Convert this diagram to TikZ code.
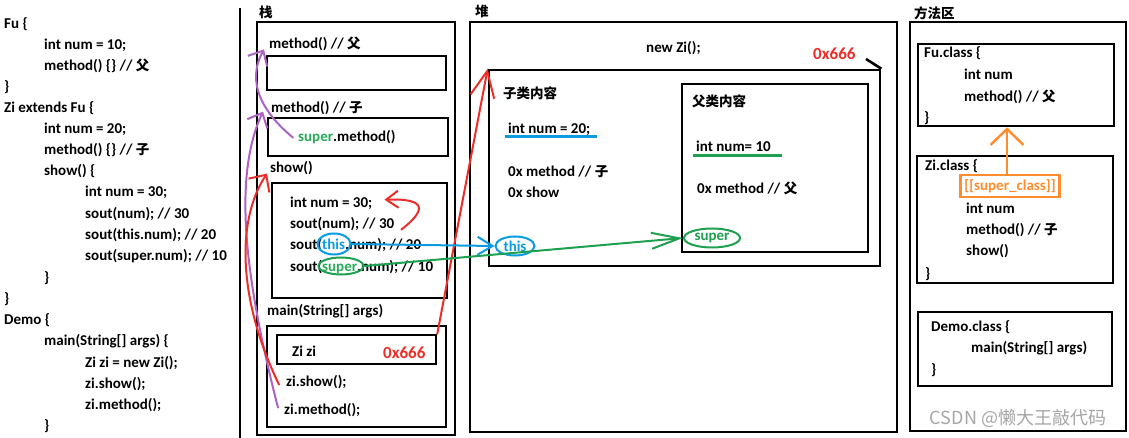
\documentclass[tikz,border=0pt]{standalone}
\usepackage{fontspec}
\setmainfont{Carlito}
\newfontfamily\cjkf{Noto Sans CJK SC}
\newcommand\zh[1]{{\cjkf\fontsize{13.5}{15}\selectfont #1}}
\usetikzlibrary{arrows.meta,shapes.geometric,fit}
\definecolor{ared}{RGB}{236,45,40}
\definecolor{apurple}{RGB}{172,100,196}
\definecolor{ablue}{RGB}{10,155,225}
\definecolor{agreen}{RGB}{30,160,80}
\definecolor{aorange}{RGB}{255,140,45}
\definecolor{tgreen}{RGB}{40,170,90}
\begin{document}
\begin{tikzpicture}[x=1pt,y=-1pt,
  t/.style={anchor=base west, inner sep=0pt, font=\fontsize{15}{17}\selectfont\bfseries},
  box/.style={draw, line width=2.6pt, inner sep=0pt},
  pen/.style={line width=2pt, line cap=round, line join=round},
  ell/.style={ellipse, draw, line width=2pt, inner sep=0pt, font=\fontsize{15}{17}\selectfont\bfseries}
]
\useasboundingbox (0,0) rectangle (1129,438);
\fill[white] (0,0) rectangle (1129,438);

% ---------- left code ----------
\node[t] (c0) at (4,29) {Fu \{};
\node[t] (c1) at (44,50) {int num = 10;};
\node[t] (c2) at (44,71) {method() \{\} // \zh{父}};
\node[t] (c3) at (4,92) {\}};
\node[t] (c4) at (4,113) {Zi extends Fu \{};
\node[t] (c5) at (44,134) {int num = 20;};
\node[t] (c6) at (44,155) {method() \{\} // \zh{子}};
\node[t] (c7) at (44,176) {show() \{};
\node[t] (c8) at (85,197) {int num = 30;};
\node[t] (c9) at (85,219) {sout(num); // 30};
\node[t] (c10) at (85,240) {sout(this.num); // 20};
\node[t] (c11) at (85,261) {sout(super.num); // 10};
\node[t] (c12) at (44,282) {\}};
\node[t] (c13) at (4,303) {\}};
\node[t] (c14) at (4,324) {Demo \{};
\node[t] (c15) at (44,345) {main(String[] args) \{};
\node[t] (c16) at (85,367) {Zi zi = new Zi();};
\node[t] (c17) at (85,388) {zi.show();};
\node[t] (c18) at (85,409) {zi.method();};
\node[t] (c19) at (44,430) {\}};
\draw[line width=2.4pt] (240,8) -- (240,438);

% ---------- stack ----------
\node[t] (lstack) at (259,18) {\zh{栈}};
\node[box, fit={(257,22) (455,435)}] (stack) {};
\node[t] (mf) at (269,49) {method() // \zh{父}};
\node[box, fit={(267,56) (446,90)}] (frame1) {};
\node[t] (mz) at (271,113) {method() // \zh{子}};
\node[box, fit={(268,118) (448,156)}] (frame2) {};
\node[t] (supm) at (298,142) {\color{tgreen}super\color{black}.method()};
\node[t] (sh) at (270,173) {show()};
\node[box, fit={(272,183) (447,298)}] (frame3) {};
\node[t] (in30) at (290,208) {int num = 30;};
\node[t] (snum) at (290,229) {sout(num); // 30};
\node[t] (sthisl) at (290,250) {sout(\color{ablue}this\color{black}.num); // 20};
\node[t] (ssupl) at (290,272) {sout(\color{tgreen}super\color{black}.num); // 10};
\node[t] (mainl) at (267,315) {main(String[] args)};
\node[box, fit={(267,326) (446,427)}] (frame4) {};
\node[box, fit={(277,335) (436,364)}] (zibox) {};
\node[t] (zizi) at (292,356) {Zi zi};
\node[t, text=ared, font=\fontsize{17}{19}\selectfont\bfseries] (addr1) at (383,358) {0x666};
\node[t] (zshow) at (286,386) {zi.show();};
\node[t] (zmeth) at (284,414) {zi.method();};

% ---------- heap ----------
\node[t] (lheap) at (475,17) {\zh{堆}};
\node[box, fit={(470,22) (897,432)}] (heap) {};
\node[t] (newzi) at (646,53) {new Zi();};
\node[t, text=ared, font=\fontsize{17}{19}\selectfont\bfseries] (addr2) at (813,60) {0x666};
\node[box, fit={(489,70) (880,266)}] (childobj) {};
\draw[line width=2.6pt] (866,59) -- (childobj.north east);
\node[t] (zicont) at (503,99) {\zh{子类内容}};
\node[t] (h20) at (508,134) {int num = 20;};
\draw[ablue, line width=2.6pt] (505,136.5) -- (597,136.5);
\node[t] (hmz) at (508,177) {0x method // \zh{子}};
\node[t] (hshow) at (508,198) {0x show};
\node[box, fit={(682,84) (868,252)}] (parentobj) {};
\node[t] (fucont) at (692,107) {\zh{父类内容}};
\node[t] (h10) at (696,152) {int num= 10};
\draw[agreen, line width=2.6pt] (693,155.5) -- (782,155.5);
\node[t] (hmf) at (697,194) {0x method // \zh{父}};

% ---------- method area ----------
\node[t] (lmeth) at (914,19) {\zh{方法区}};
\node[box, fit={(910,22) (1126,431)}] (marea) {};
\node[box, fit={(918,44) (1114,126)}] (fubox) {};
\node[t] (fu1) at (924,58) {Fu.class \{};
\node[t] (fu2) at (964,80) {int num};
\node[t] (fu3) at (964,102) {method() // \zh{父}};
\node[t] (fu4) at (924,123) {\}};
\node[box, fit={(917,156) (1113,283)}] (zibox2) {};
\node[t] (zc1) at (925,171) {Zi.class \{};
\node[draw=aorange, line width=2.4pt, inner sep=0pt, minimum width=99pt, minimum height=22pt,
      text=aorange, font=\fontsize{15}{17}\selectfont\bfseries] (sc) at (1010,186) {[[super\_class]]};
\node[t] (zc2) at (966,214) {int num};
\node[t] (zc3) at (966,235) {method() // \zh{子}};
\node[t] (zc4) at (966,256) {show()};
\node[t] (zc5) at (925,278) {\}};
\node[box, fit={(918,312) (1112,386)}] (demobox) {};
\node[t] (dm1) at (931,331) {Demo.class \{};
\node[t] (dm2) at (971,352) {main(String[] args)};
\node[t] (dm3) at (931,374) {\}};
\node[text=black!35, inner sep=0pt, font=\fontsize{18}{20}\selectfont\cjkf] (wm) at (1018,418) {CSDN @懒大王敲代码};

% ---------- ellipses ----------
\node[ell, draw=ablue, minimum width=33pt, minimum height=21pt] (sthis) at (334,244) {};
\node[ell, draw=agreen, minimum width=45pt, minimum height=17pt] (ssuper) at (341,266) {};
\node[ell, draw=ablue, text=ablue, minimum width=39pt, minimum height=19pt] (hthis) at (515,246) {this};
\node[ell, draw=agreen, text=agreen, minimum width=56pt, minimum height=19pt] (hsuper) at (712,238) {super};

% ---------- connectors ----------
\draw[pen, ared, -{Straight Barb[length=26pt,width=24pt]}] (zibox.north east) -- (childobj.north west);
\draw[pen, ablue, -{Straight Barb[length=15pt,width=18pt]}] (sthis.east) -- (hthis.west);
\draw[pen, agreen, -{Straight Barb[length=28pt,width=16pt]}] (ssuper.east) -- (hsuper.west);
\draw[pen, aorange, line width=2.4pt, -{Straight Barb[length=16pt,width=33pt]}] ([xshift=-3pt]sc.north) -- ([xshift=-3pt]sc.north |- fubox.south);
\draw[pen, apurple, -{Straight Barb[length=12pt,width=22pt]}] ([shift={(-5,0)}]supm.west) .. controls (262,112) and (246,82) .. ([shift={(-5,5)}]mf.west);
\draw[pen, apurple, -{Straight Barb[length=12pt,width=22pt]}] ([shift={(-6,-2)}]zmeth.west) .. controls (240,260) and (236,170) .. ([shift={(-8,3)}]mz.west);
\draw[pen, ared, -{Straight Barb[length=13pt,width=25pt]}] ([shift={(-7,3)}]zshow.west) .. controls (238,300) and (236,220) .. ([shift={(-3,5)}]sh.west);
\draw[pen, ared, -{Straight Barb[length=12pt,width=17pt]}] ([shift={(7,5)}]snum.east) .. controls (424,212) and (430,198) .. ([shift={(12,-4)}]in30.east);
\end{tikzpicture}
\end{document}
